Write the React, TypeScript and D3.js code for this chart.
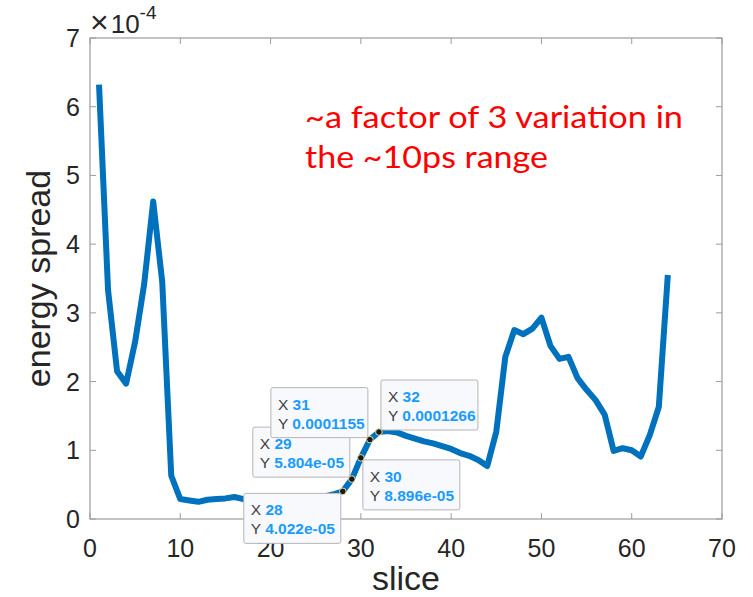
import React from "react";
import * as d3 from "d3";

// slice index 1..64
const slices: number[] = Array.from({ length: 64 }, (_, i) => i + 1);
// energy spread in units of 1e-4
const spread: number[] = [
  6.32, 3.33, 2.15, 1.97, 2.58, 3.42, 4.62, 3.45, 0.63, 0.29,
  0.27, 0.25, 0.28, 0.29, 0.3, 0.32, 0.29, 0.28, 0.27, 0.27,
  0.28, 0.29, 0.3, 0.31, 0.32, 0.33, 0.36, 0.4022, 0.5804, 0.8896,
  1.155, 1.266, 1.28, 1.26, 1.21, 1.17, 1.13, 1.1, 1.06, 1.02,
  0.96, 0.92, 0.86, 0.77, 1.27, 2.36, 2.75, 2.69, 2.77, 2.93,
  2.52, 2.33, 2.36, 2.05, 1.88, 1.73, 1.52, 0.99, 1.03, 1.0,
  0.91, 1.22, 1.63, 3.55,
];
const xTicks: number[] = [0, 10, 20, 30, 40, 50, 60, 70];
const yTicks: number[] = [0, 1, 2, 3, 4, 5, 6, 7];
const tipSlices: number[] = [28, 29, 30, 31, 32];
const tipYLabels: string[] = ["4.022e-05", "5.804e-05", "8.896e-05", "0.0001155", "0.0001266"];
const tipDirs: string[] = ["bl", "tl", "br", "tl", "tr"];
const annotation: string[] = ["~a factor of 3 variation in", "the ~10ps range"];

const W = 753;
const H = 597;
const L = 90, R = 722, T = 38, B = 519;

export default function App() {
  const x = d3.scaleLinear().domain([0, 70]).range([L, R]);
  const y = d3.scaleLinear().domain([0, 7]).range([B, T]);
  const pts: [number, number][] = slices.map((s, i) => [s, spread[i]]);
  const line = d3.line<[number, number]>().x((d) => x(d[0])).y((d) => y(d[1]));
  const axisColor = "#9c9c9c";
  const textColor = "#262626";
  const font = "'Liberation Sans', Arial, Helvetica, sans-serif";
  const tickLen = 6;
  const boxW = 97, boxH = 50, off = 2;

  return (
    <svg width={W} height={H} style={{ position: "absolute", left: 0, top: 0, background: "#fff" }}>
      <rect x={0} y={0} width={W} height={H} fill="#fff" />
      {/* ticks */}
      {xTicks.map((t) => (
        <g key={"xt" + t}>
          <line x1={x(t)} x2={x(t)} y1={B} y2={B - tickLen} stroke={axisColor} />
          <line x1={x(t)} x2={x(t)} y1={T} y2={T + tickLen} stroke={axisColor} />
          <text x={x(t)} y={557} textAnchor="middle" fontFamily={font} fontSize={25} fill={textColor}>{t}</text>
        </g>
      ))}
      {yTicks.map((t) => (
        <g key={"yt" + t}>
          <line x1={L} x2={L + tickLen} y1={y(t)} y2={y(t)} stroke={axisColor} />
          <line x1={R} x2={R - tickLen} y1={y(t)} y2={y(t)} stroke={axisColor} />
          <text x={80} y={y(t) + 9} textAnchor="end" fontFamily={font} fontSize={25} fill={textColor}>{t}</text>
        </g>
      ))}
      <rect x={L} y={T} width={R - L} height={B - T} fill="none" stroke={axisColor} strokeWidth={1.2} />
      {/* exponent */}
      <text x={90} y={33} fontFamily={font} fontSize={26} fill={textColor}>
        <tspan fontSize={32}>×</tspan>
        <tspan dx={2}>10</tspan>
        <tspan dy={-14} fontSize={19}>-4</tspan>
      </text>
      {/* axis labels */}
      <text x={(L + R) / 2} y={590} textAnchor="middle" fontFamily={font} fontSize={34} fill={textColor}>slice</text>
      <text transform={`translate(50,${(T + B) / 2}) rotate(-90)`} textAnchor="middle" fontFamily={font} fontSize={34} fill={textColor}>energy spread</text>
      {/* data line */}
      <path d={line(pts) || ""} fill="none" stroke="#0072BD" strokeWidth={6} strokeLinejoin="round" />
      {/* annotation */}
      <text x={305} y={128} fontFamily="Lato, 'Open Sans', sans-serif" fontSize={31} fill="#ff0000" textLength={378} lengthAdjust="spacingAndGlyphs">{annotation[0]}</text>
      <text x={305} y={168} fontFamily="Lato, 'Open Sans', sans-serif" fontSize={31} fill="#ff0000" textLength={243} lengthAdjust="spacingAndGlyphs">{annotation[1]}</text>
      {/* datatips */}
      {tipSlices.map((s, i) => {
        const px = x(s);
        const py = y(spread[s - 1]);
        const dir = tipDirs[i];
        const bx = dir.includes("l") ? px - off - boxW : px + off;
        const by = dir.includes("t") ? py - off - boxH : py + off;
        return (
          <g key={"tip" + s}>
            <rect x={bx} y={by} width={boxW} height={boxH} rx={2} fill="#f8f9fd" stroke="#b5b5b5" strokeWidth={1} />
            <text x={bx + 7} y={by + 22} fontFamily={font} fontSize={15.5} fill="#404040">
              X <tspan fill="#1a9cff" fontWeight="bold">{s}</tspan>
            </text>
            <text x={bx + 7} y={by + 41} fontFamily={font} fontSize={15.5} fill="#404040">
              Y <tspan fill="#1a9cff" fontWeight="bold">{tipYLabels[i]}</tspan>
            </text>
          </g>
        );
      })}
      {tipSlices.map((s) => (
        <circle key={"dot" + s} cx={x(s)} cy={y(spread[s - 1])} r={3.3} fill="#1a1a1a" stroke="#e8e0a0" strokeWidth={1} />
      ))}
    </svg>
  );
}
